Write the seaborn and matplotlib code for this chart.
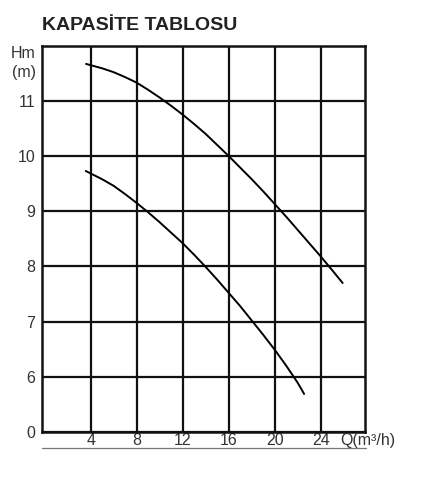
import numpy as np
import pandas as pd
import seaborn as sns
import matplotlib.pyplot as plt
from matplotlib.lines import Line2D

# Curve readings (Q in m3/h, H in m)
q_upper = [3.6, 5.0, 6.0, 7.0, 8.0, 9.0, 10.0, 11.0, 12.0, 13.0, 14.0, 15.0, 16.0,
           17.0, 18.0, 19.0, 20.0, 21.0, 22.0, 23.0, 24.0, 25.0, 25.9]
h_upper = [11.67, 11.59, 11.52, 11.43, 11.33, 11.20, 11.06, 10.91, 10.75, 10.58, 10.40, 10.20, 10.0,
           9.79, 9.58, 9.36, 9.13, 8.90, 8.66, 8.42, 8.18, 7.93, 7.70]
q_lower = [3.57, 5.0, 6.0, 7.0, 8.0, 9.0, 10.0, 11.0, 12.0, 13.0, 14.0, 15.0, 16.0,
           17.0, 18.0, 19.0, 20.0, 21.0, 22.0, 22.55]
h_lower = [9.73, 9.58, 9.46, 9.31, 9.15, 8.98, 8.80, 8.61, 8.42, 8.21, 7.99, 7.76, 7.52,
           7.28, 7.02, 6.76, 6.49, 6.20, 5.89, 5.69]

x_ticks = [4, 8, 12, 16, 20, 24]
y_ticks = [5, 6, 7, 8, 9, 10, 11]
y_labels = ['0', '6', '7', '8', '9', '10', '11']

sns.set_style('white')
plt.rcParams['font.family'] = ['Liberation Sans', 'DejaVu Sans']

fig = plt.figure(figsize=(4.28, 4.8), dpi=100)
ax = fig.add_axes([42 / 428, 1 - 432 / 480, (364.5 - 42) / 428, (432 - 45.7) / 480])

sns.lineplot(x=q_upper, y=h_upper, color='black', linewidth=1.4, sort=False, ax=ax)
sns.lineplot(x=q_lower, y=h_lower, color='black', linewidth=1.4, sort=False, ax=ax)

ax.set_xlim(-0.23, 27.8)
ax.set_ylim(5, 12)
ax.set_xticks(x_ticks)
ax.set_yticks(y_ticks)
ax.set_yticklabels(y_labels)
ax.tick_params(axis='both', length=0, labelsize=11.5, colors='#333333')
ax.tick_params(axis='x', pad=1)
ax.tick_params(axis='y', pad=5)
ax.grid(True, color='#111111', linewidth=1.6)
for s in ax.spines.values():
    s.set_color('#111111')
    s.set_linewidth(1.8)
    s.set_visible(True)
ax.set_xlabel('')
ax.set_ylabel('')

fig.text(42 / 428, 1 - 26 / 480, 'KAPASİTE TABLOSU', fontsize=14, fontweight='bold',
         color='#222222', ha='left', va='center')
fig.text(36 / 428, 1 - 53 / 480, 'Hm', fontsize=11.5, color='#333333', ha='right', va='center')
fig.text(36 / 428, 1 - 73 / 480, '(m)', fontsize=11.5, color='#333333', ha='right', va='center')
fig.text(340 / 428, 1 - 440 / 480, 'Q(m³/h)', fontsize=11.5, color='#333333', ha='left', va='center')

# thin rule under the x tick labels
fig.add_artist(Line2D([42 / 428, 365.5 / 428], [1 - 448.3 / 480, 1 - 448.3 / 480],
                      color='#777777', linewidth=0.9, transform=fig.transFigure))

fig.savefig('out.png', dpi=100)
